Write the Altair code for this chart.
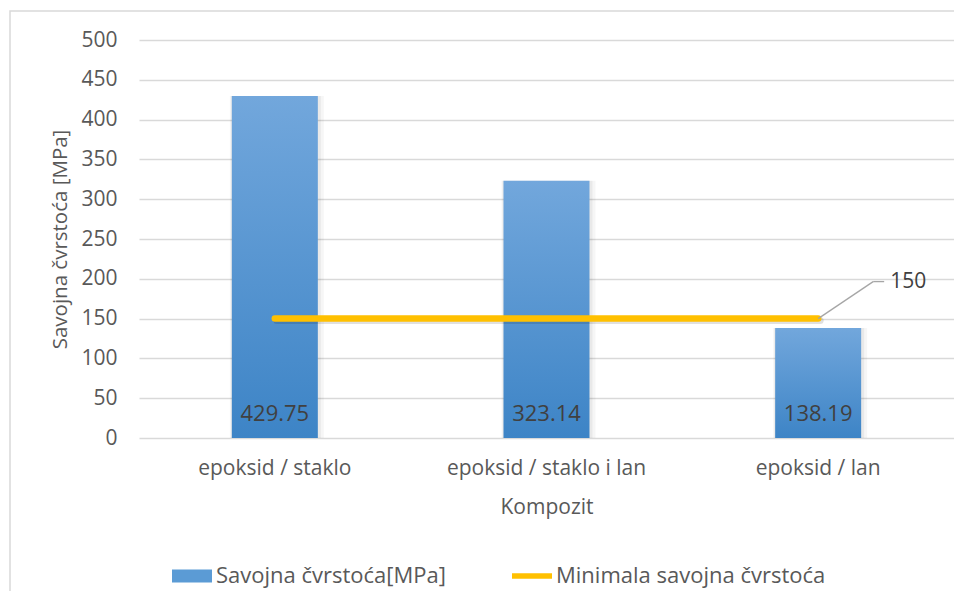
import altair as alt
import pandas as pd

categories = ["epoksid / staklo", "epoksid / staklo i lan", "epoksid / lan"]
strength = [429.75, 323.14, 138.19]
minimum = [150, 150, 150]
series_names = ["Savojna čvrstoća[MPa]", "Minimala savojna čvrstoća"]
y_ticks = [0, 50, 100, 150, 200, 250, 300, 350, 400, 450, 500]

FONT = "Open Sans"
FS = 21
TEXT = "#595959"
BAR_TOP = "#72a7dc"
BAR_BOTTOM = "#3d84c6"
LINE = "#FFC000"

df = pd.DataFrame({"kompozit": categories, "cvrstoca": strength, "minimum": minimum})
last_df = df[df["kompozit"] == categories[-1]]
legend_df = pd.DataFrame({"serija": series_names,
                          "kompozit": [categories[0]] * 2,
                          "v": [0, 0]})
frame_df = pd.DataFrame({"a": [0]})

x_enc = alt.X("kompozit:N", sort=categories,
              scale=alt.Scale(paddingInner=0, paddingOuter=0),
              axis=alt.Axis(title="Kompozit", labelAngle=0, domain=False, ticks=False,
                            labelPadding=19, titlePadding=18, labelLimit=400,
                            labelFontSize=FS, titleFontSize=FS,
                            labelColor=TEXT, titleColor=TEXT,
                            labelFont=FONT, titleFont=FONT,
                            titleFontWeight="normal"))
y_scale = alt.Scale(domain=[0, 500], nice=False)
y_axis = alt.Axis(title="Savojna čvrstoća [MPa]", values=y_ticks, domain=False, ticks=False,
                  labelPadding=22, titlePadding=10, labelOverlap=False,
                  labelFontSize=FS, titleFontSize=20.5,
                  labelColor=TEXT, titleColor=TEXT,
                  labelFont=FONT, titleFont=FONT, titleFontWeight="normal",
                  grid=True, gridColor="#d9d9d9", gridWidth=1.5)


def yq(field):
    return alt.Y(field, scale=y_scale, axis=y_axis)


base = alt.Chart(df)

frame = alt.Chart(frame_df).mark_rect(fill="white", fillOpacity=0, stroke="#d9d9d9",
                                      strokeWidth=1.5).encode(
    x=alt.value(-129), x2=alt.value(900), y=alt.value(-29), y2=alt.value(700))

shadow1 = base.mark_bar(size=94, color="black", opacity=0.035, xOffset=2).encode(
    x=x_enc, y=yq("cvrstoca:Q"))
shadow2 = base.mark_bar(size=90, color="black", opacity=0.05, xOffset=1).encode(
    x=x_enc, y=yq("cvrstoca:Q"))

bars = base.mark_bar(size=86, color=alt.Gradient(
    gradient="linear",
    stops=[alt.GradientStop(color=BAR_TOP, offset=0),
           alt.GradientStop(color=BAR_BOTTOM, offset=1)],
    x1=0, x2=0, y1=0, y2=1)).encode(
    x=x_enc, y=yq("cvrstoca:Q"))

bar_labels = base.mark_text(baseline="bottom", dy=-12, fontSize=22, font=FONT,
                            color="#404040").encode(
    x=x_enc, y=alt.datum(0, scale=y_scale, axis=y_axis),
    text=alt.Text("cvrstoca:Q", format=".2f"))

line_shadow = base.mark_line(color="black", opacity=0.12, strokeWidth=7,
                             strokeCap="round", xOffset=2, yOffset=2).encode(
    x=x_enc, y=yq("minimum:Q"))
line = base.mark_line(color=LINE, strokeWidth=6.5, strokeCap="round").encode(
    x=x_enc, y=yq("minimum:Q"))

leader1 = alt.Chart(last_df).mark_rule(color="#a6a6a6", strokeWidth=1.3,
                                       x2Offset=55, y2Offset=-37).encode(
    x=x_enc, x2="kompozit:N", y=yq("minimum:Q"), y2="minimum:Q")
leader2 = alt.Chart(last_df).mark_rule(color="#a6a6a6", strokeWidth=1.3,
                                       xOffset=55, x2Offset=66,
                                       yOffset=-37, y2Offset=-37).encode(
    x=x_enc, x2="kompozit:N", y=yq("minimum:Q"), y2="minimum:Q")
line_label = alt.Chart(last_df).mark_text(align="left", baseline="middle", dx=72, dy=-37,
                                          fontSize=FS, font=FONT, color="#404040").encode(
    x=x_enc, y=yq("minimum:Q"), text=alt.Text("minimum:Q"))

leg = alt.Legend(title=None, orient="none", legendX=33, legendY=516, direction="horizontal",
                 symbolSize=1600, symbolOpacity=1, symbolStrokeWidth=0,
                 labelFontSize=22, labelFont=FONT, labelColor=TEXT,
                 labelOffset=4, columnPadding=66, padding=0, labelLimit=400)
legend_layer = alt.Chart(legend_df).mark_point(filled=True, opacity=0).encode(
    x=x_enc, y=yq("v:Q"),
    color=alt.Color("serija:N", sort=series_names,
                    scale=alt.Scale(domain=series_names, range=["#5b9bd5", LINE]),
                    legend=leg),
    shape=alt.Shape("serija:N", sort=series_names,
                    scale=alt.Scale(domain=series_names,
                                    range=["M-1,-0.33L1,-0.33L1,0.33L-1,0.33Z",
                                           "M-1,-0.14L1,-0.14L1,0.14L-1,0.14Z"]),
                    legend=leg))

chart = alt.layer(frame, shadow1, shadow2, bars, bar_labels, line_shadow, line,
                  leader1, leader2, line_label, legend_layer).properties(
    width=815, height=398,
    autosize=alt.AutoSizeParams(type="none"),
    padding={"left": 131, "top": 32, "right": 0, "bottom": 153},
    background="white",
).configure_view(stroke=None)

chart.save("out.html", embed_options={"renderer": "svg", "actions": False})
